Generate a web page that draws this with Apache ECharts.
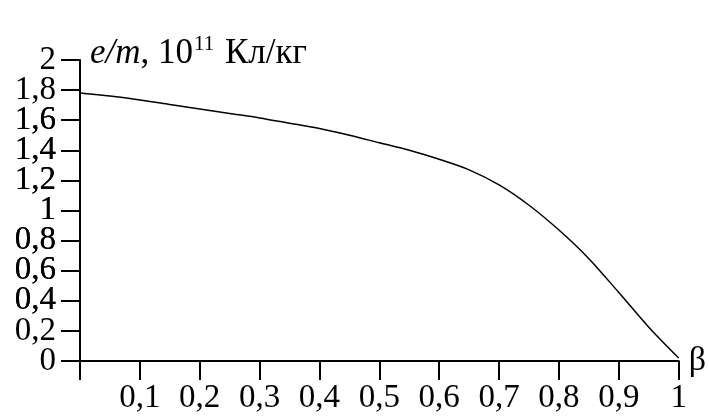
<!DOCTYPE html>
<html>
<head>
<meta charset="utf-8">
<script src="https://cdn.jsdelivr.net/npm/echarts@6/dist/echarts.min.js"></script>
<style>html,body{margin:0;padding:0;background:#fff;}#c{width:709px;height:419px;}</style>
</head>
<body>
<div id="c"></div>
<script>
// β values and e/m values (10^11 C/kg)
const beta = [0, 0.05, 0.1, 0.15, 0.2, 0.25, 0.3, 0.35, 0.4, 0.45, 0.5, 0.55, 0.6, 0.65, 0.7, 0.75, 0.8, 0.85, 0.9, 0.95, 1.0];
const eOverM = [1.78, 1.76, 1.735, 1.705, 1.675, 1.645, 1.615, 1.58, 1.545, 1.50, 1.45, 1.40, 1.34, 1.27, 1.17, 1.035, 0.87, 0.68, 0.455, 0.225, 0.02];
const xTicks = ['', '0,1', '0,2', '0,3', '0,4', '0,5', '0,6', '0,7', '0,8', '0,9', '1'];
const yTicks = ['0', '0,2', '0,4', '0,6', '0,8', '1', '1,2', '1,4', '1,6', '1,8', '2'];

const font = '"Liberation Serif", "DejaVu Serif", serif';
const yLabelStyle = {
  margin: 24, color: '#000', fontFamily: font, fontSize: 33,
  hideOverlap: false,
  formatter: function (v) { return yTicks[Math.round(v * 5)]; }
};
const tickStyle = {show: true, inside: false, length: 19, lineStyle: {color: '#000', width: 2}};
const chart = echarts.init(document.getElementById('c'), null, {renderer: 'canvas'});
chart.setOption({
  animation: false,
  backgroundColor: '#fff',
  grid: {left: 80, right: 29, top: 60, bottom: 58, containLabel: false},
  title: {
    left: 85, top: 29,
    text: '{i|e/m}{n|, 10}{s|11}{n| Кл/кг}',
    textStyle: {
      fontFamily: font, fontSize: 34, fontWeight: 'normal', color: '#000',
      rich: {
        i: {fontFamily: font, fontStyle: 'italic', fontWeight: 'normal', fontSize: 35, color: '#000'},
        n: {fontFamily: font, fontWeight: 'normal', fontSize: 35, color: '#000'},
        s: {fontFamily: font, fontWeight: 'normal', fontSize: 21, color: '#000', verticalAlign: 'top', padding: [0, 2, 18, 1]}
      }
    }
  },
  xAxis: {
    type: 'value', min: 0, max: 1, interval: 0.1,
    splitLine: {show: false},
    axisLine: {show: true, lineStyle: {color: '#000', width: 2}},
    axisTick: tickStyle,
    axisLabel: {
      margin: 21, color: '#000', fontFamily: font, fontSize: 33,
      showMinLabel: true, showMaxLabel: true, hideOverlap: false,
      formatter: function (v) { return xTicks[Math.round(v * 10)]; }
    },
    name: 'β', nameLocation: 'end', nameGap: 10,
    nameTextStyle: {fontFamily: font, fontSize: 34, color: '#000', verticalAlign: 'middle'}
  },
  yAxis: [{
    type: 'value', min: 0, max: 2, interval: 0.2, position: 'left',
    splitLine: {show: false},
    axisLine: {show: true, lineStyle: {color: '#000', width: 2}},
    axisTick: tickStyle,
    axisLabel: Object.assign({}, yLabelStyle, {showMinLabel: false, showMaxLabel: false})
  }, {
    type: 'value', min: 0, max: 2, interval: 0.2, position: 'left', offset: 0,
    splitLine: {show: false},
    axisLine: {show: false},
    axisTick: tickStyle,
    axisLabel: Object.assign({}, yLabelStyle, {showMinLabel: true, showMaxLabel: true, interval: 9})
  }],
  series: [{
    type: 'line', smooth: 0.3, symbol: 'none', yAxisIndex: 0,
    lineStyle: {color: '#000', width: 1.5},
    data: beta.map((b, i) => [b, eOverM[i]])
  }]
});
</script>
</body>
</html>
